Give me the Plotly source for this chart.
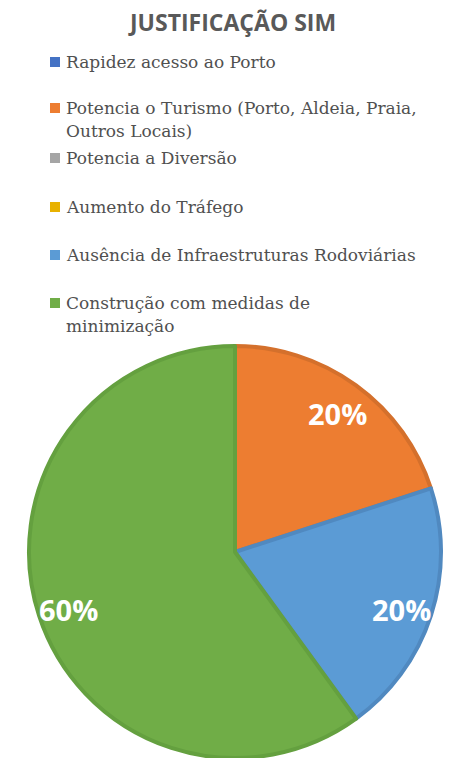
import math
import plotly.graph_objects as go

# ---- data ----
chart_title = "JUSTIFICAÇÃO SIM"
categories = [
    "Rapidez acesso ao Porto",
    "Potencia o Turismo (Porto, Aldeia, Praia, Outros Locais)",
    "Potencia a Diversão",
    "Aumento do Tráfego",
    "Ausência de Infraestruturas Rodoviárias",
    "Construção com medidas de minimização",
]
legend_lines = [
    ["Rapidez acesso ao Porto"],
    ["Potencia o Turismo (Porto, Aldeia, Praia,", "Outros Locais)"],
    ["Potencia a Diversão"],
    ["Aumento do Tráfego"],
    ["Ausência de Infraestruturas Rodoviárias"],
    ["Construção com medidas de", "minimização"],
]
values = [0, 20, 0, 0, 20, 60]

# ---- styles ----
fill_colors = ["#4472C4", "#ED7D31", "#A5A5A5", "#E8B100", "#5B9BD5", "#70AD47"]
edge_colors = ["#3D66B0", "#D4702C", "#949494", "#D09F00", "#5089C0", "#64A03F"]
text_grey = "#595959"

W, H = 453, 758
def px(x):
    return x / W
def py(y):
    return 1 - y / H

# pie geometry (pixels)
cx, cy, R = 235, 552, 206

fig = go.Figure()
fig.add_trace(go.Pie(
    labels=categories,
    values=values,
    sort=False,
    direction="clockwise",
    rotation=0,
    textinfo="none",
    hoverinfo="label+percent",
    showlegend=False,
    marker=dict(
        colors=fill_colors,
        line=dict(color=edge_colors, width=[4 if v > 0 else 0 for v in values]),
    ),
    domain=dict(x=[px(cx - R), px(cx + R)], y=[py(cy + R), py(cy - R)]),
))

annotations = []
shapes = []

# title
annotations.append(dict(
    text=f"<b>{chart_title}</b>", x=px(232), y=py(22), xref="paper", yref="paper",
    xanchor="center", yanchor="middle", showarrow=False,
    font=dict(family="Open Sans", size=23, color=text_grey),
))

# legend (manual, Excel-like spacing)
entry_y = [62, 108, 158, 207, 255, 303]
line_gap = 23
for i, lines in enumerate(legend_lines):
    y0 = entry_y[i]
    shapes.append(dict(
        type="rect", xref="paper", yref="paper",
        x0=px(50), x1=px(60), y0=py(y0 - 5), y1=py(y0 + 5),
        fillcolor=fill_colors[i], line=dict(width=0),
    ))
    for j, t in enumerate(lines):
        annotations.append(dict(
            text=t, x=px(64), y=py(y0 + j * line_gap), xref="paper", yref="paper",
            xanchor="left", yanchor="middle", showarrow=False,
            font=dict(family="DejaVu Serif", size=17, color="#505050"),
        ))

# percentage data labels
total = sum(values)
cum = 0
for v in values:
    if v > 0:
        theta = 2 * math.pi * (cum + v / 2) / total
        d = 0.85 * R
        lx = cx + d * math.sin(theta)
        ly = cy + 3 - d * math.cos(theta)
        annotations.append(dict(
            text=f"<b>{round(100 * v / total)}%</b>", x=px(lx), y=py(ly),
            xref="paper", yref="paper", xanchor="center", yanchor="middle",
            showarrow=False, font=dict(family="Open Sans", size=29, color="white"),
        ))
    cum += v

fig.update_layout(
    width=W, height=H,
    margin=dict(l=0, r=0, t=0, b=0),
    paper_bgcolor="white",
    plot_bgcolor="white",
    annotations=annotations,
    shapes=shapes,
)

fig.write_html(
    "out.html",
    config={"displayModeBar": False},
    post_script="document.body.style.margin='0';document.body.style.overflow='hidden';",
)
